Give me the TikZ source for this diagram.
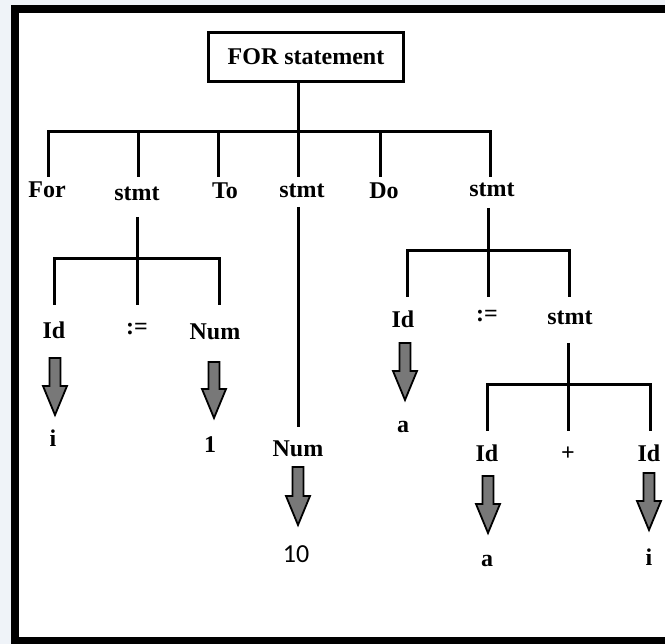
\documentclass[tikz,border=0pt]{standalone}
\usepackage{fontspec}
\setmainfont{Liberation Serif}[BoldFont={Liberation Serif Bold}]
\newfontfamily\numfont{Carlito}
\usetikzlibrary{calc}
\definecolor{pagebg}{RGB}{239,243,248}
\definecolor{arrowgray}{RGB}{120,120,120}
\tikzset{
  edge/.style={line width=3pt, line join=miter},
  lbl/.style={font=\fontsize{24}{24}\selectfont\bfseries, inner sep=0pt, anchor=base},
  rootbox/.style={draw, line width=3pt, minimum width=195pt, minimum height=49pt,
    inner sep=0pt, font=\fontsize{24}{24}\selectfont\bfseries},
  fatarrow/.style={draw=black, line width=1.8pt, fill=arrowgray, line join=miter,
    to path={($(\tikztostart)+(-5.5,0)$) -- ($(\tikztotarget)+(-5.5,-29)$)
      -- ($(\tikztotarget)+(-12,-29)$) -- (\tikztotarget)
      -- ($(\tikztotarget)+(12,-29)$) -- ($(\tikztotarget)+(5.5,-29)$)
      -- ($(\tikztostart)+(5.5,0)$) -- cycle}}
}
\begin{document}
\begin{tikzpicture}[x=1pt,y=-1pt]
\useasboundingbox (0,0) rectangle (665,644);
\clip (0,0) rectangle (665,644);
\fill[pagebg] (0,0) rectangle (665,644);
% outer frame (right side runs past the page edge)
\draw[line width=8pt, fill=white] (14.5,9) rectangle (674,641);

% root
\node[rootbox] (root) at (306,57) {FOR statement};

% first level
\coordinate (j0) at (298,132);
\coordinate (e1) at (48,177);
\coordinate (e2) at (138,177);
\coordinate (e3) at (218,177);
\coordinate (e4) at (298,177);
\coordinate (e5) at (380,177);
\coordinate (e6) at (490,177);
\draw[edge] (root.south -| j0) -- (j0);
\draw[edge] (e1) -- (e1 |- j0) -- (e6 |- j0) -- (e6);
\foreach \k in {2,3,4,5} \draw[edge] (e\k |- j0) -- (e\k);

\node[lbl] (for)  at (47,198)  {For};
\node[lbl] (st1)  at (137,201) {stmt};
\node[lbl] (to)   at (225,199) {To};
\node[lbl] (st2)  at (302,198) {stmt};
\node[lbl] (do)   at (384,199) {Do};
\node[lbl] (st3)  at (492,197) {stmt};

% stmt -> Id := Num
\coordinate (t1) at (137,217);
\coordinate (j1) at (137,259);
\coordinate (f1) at (54,305);
\coordinate (f2) at (137,305);
\coordinate (f3) at (219,305);
\draw[edge] (t1) -- (j1);
\draw[edge] (f1) -- (f1 |- j1) -- (f3 |- j1) -- (f3);
\draw[edge] (f2 |- j1) -- (f2);
\node[lbl] (id1)  at (54,339)  {Id};
\node[lbl] (as1)  at (137,335) {:=};
\node[lbl] (num1) at (215,340) {Num};
\node[lbl] (vi1)  at (53,447)  {i};
\node[lbl] (one)  at (210,453) {1};
\coordinate (a1s) at (55,358);  \coordinate (a1e) at (55,415);
\coordinate (a2s) at (214,362); \coordinate (a2e) at (214,418);
\draw[fatarrow] (a1s) to (a1e);
\draw[fatarrow] (a2s) to (a2e);

% stmt -> Num -> 10
\coordinate (t2) at (298,207);
\coordinate (b2) at (298,427);
\draw[edge] (t2) -- (b2);
\node[lbl] (num2) at (298,457) {Num};
\node[font=\fontsize{26}{26}\selectfont\numfont, inner sep=0pt, anchor=base] (ten) at (296,563) {10};
\coordinate (a3s) at (298,467); \coordinate (a3e) at (298,525);
\draw[fatarrow] (a3s) to (a3e);

% stmt -> Id := stmt
\coordinate (t3) at (488,208);
\coordinate (j3) at (488,251);
\coordinate (g1) at (407,297);
\coordinate (g2) at (488,297);
\coordinate (g3) at (569,297);
\draw[edge] (t3) -- (j3);
\draw[edge] (g1) -- (g1 |- j3) -- (g3 |- j3) -- (g3);
\draw[edge] (g2 |- j3) -- (g2);
\node[lbl] (id2) at (403,328) {Id};
\node[lbl] (as2) at (487,322) {:=};
\node[lbl] (st4) at (570,325) {stmt};
\node[lbl] (va1) at (403,433) {a};
\coordinate (a4s) at (405,343); \coordinate (a4e) at (405,400);
\draw[fatarrow] (a4s) to (a4e);

% stmt -> Id + Id
\coordinate (t4) at (568,343);
\coordinate (j4) at (568,385);
\coordinate (h1) at (487,431);
\coordinate (h2) at (568,431);
\coordinate (h3) at (650,431);
\draw[edge] (t4) -- (j4);
\draw[edge] (h1) -- (h1 |- j4) -- (h3 |- j4) -- (h3);
\draw[edge] (h2 |- j4) -- (h2);
\node[lbl] (id3)  at (487,462) {Id};
\node[lbl] (plus) at (568,461) {+};
\node[lbl] (id4)  at (649,462) {Id};
\node[lbl] (va2)  at (487,567) {a};
\node[lbl] (vi2)  at (649,566) {i};
\coordinate (a5s) at (488,476); \coordinate (a5e) at (488,533);
\coordinate (a6s) at (649,473); \coordinate (a6e) at (649,530);
\draw[fatarrow] (a5s) to (a5e);
\draw[fatarrow] (a6s) to (a6e);
\end{tikzpicture}
\end{document}
